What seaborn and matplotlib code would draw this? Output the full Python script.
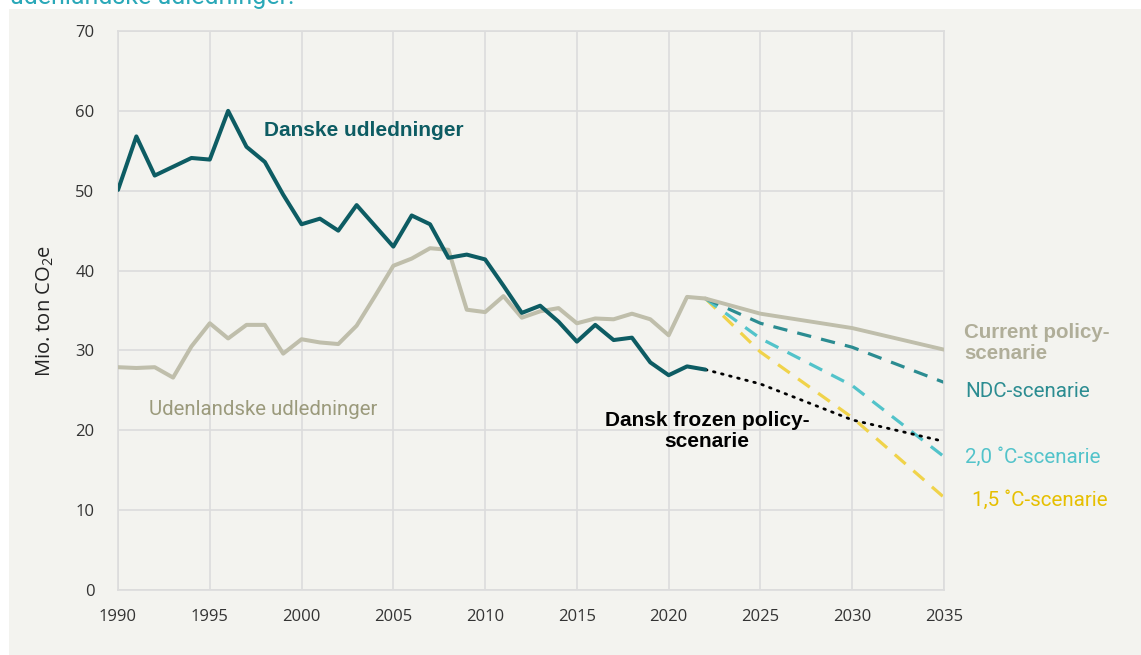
import matplotlib
matplotlib.use("Agg")
import matplotlib.pyplot as plt
import seaborn as sns
import pandas as pd
from matplotlib.patches import Rectangle

# ===================== DATA =====================
years_hist = list(range(1990, 2023))
danske = [50.1, 56.8, 51.9, 53.0, 54.1, 53.9, 60.0, 55.5, 53.6, 49.5,
          45.8, 46.5, 45.0, 48.2, 45.6, 43.0, 46.9, 45.8, 41.6, 42.0,
          41.4, 38.1, 34.7, 35.6, 33.6, 31.1, 33.2, 31.3, 31.6, 28.5,
          26.9, 28.0, 27.6]
udenlandske = [27.9, 27.8, 27.9, 26.6, 30.5, 33.4, 31.5, 33.2, 33.2, 29.6,
               31.4, 31.0, 30.8, 33.1, 36.8, 40.6, 41.5, 42.8, 42.6, 35.1,
               34.8, 36.8, 34.1, 34.9, 35.3, 33.4, 34.0, 33.9, 34.6, 33.9,
               31.9, 36.7, 36.5]

years_scen = [2022, 2025, 2030, 2035]
frozen = [27.6, 25.8, 21.3, 18.6]
current_policy = [36.5, 34.6, 32.8, 30.1]
ndc = [36.5, 33.4, 30.4, 26.0]
scen_20 = [36.5, 31.5, 25.6, 16.7]
scen_15 = [36.5, 29.8, 21.6, 11.6]

x_ticks = list(range(1990, 2036, 5))
y_ticks = list(range(0, 71, 10))

# ===================== STIL =====================
sns.set_theme(style="white")
plt.rcParams['font.family'] = ['Open Sans', 'DejaVu Sans']
plt.rcParams['mathtext.fontset'] = 'custom'
plt.rcParams['mathtext.rm'] = 'Open Sans'
plt.rcParams['mathtext.default'] = 'regular'

bg = "#f3f3ef"
grid_c = "#dcdcdc"
c_dk = "#0d5c63"
c_uden = "#bfbeab"
c_ndc = "#2b8c91"
c_20 = "#52c3ca"
c_15 = "#f0d34a"

fig = plt.figure(figsize=(11.41, 6.55), dpi=100)
fig.patch.set_facecolor("white")
fig.patches.append(Rectangle((9 / 1141, 0), 1 - 9 / 1141, 1 - 9 / 655,
                             transform=fig.transFigure, facecolor=bg,
                             edgecolor="none", zorder=-10))

ax = fig.add_axes([118 / 1141, 65 / 655, (944 - 118) / 1141, (590 - 31) / 655])
ax.set_facecolor(bg)

# ---- linjer ----
df_hist = pd.DataFrame({"aar": years_hist, "dk": danske, "uden": udenlandske})
df_scen = pd.DataFrame({"aar": years_scen, "frozen": frozen, "cp": current_policy,
                        "ndc": ndc, "s20": scen_20, "s15": scen_15})

sns.lineplot(data=df_scen, x="aar", y="s15", ax=ax, color=c_15, linewidth=2.3,
             linestyle=(0, (4.5, 3.2)), zorder=2)
sns.lineplot(data=df_scen, x="aar", y="s20", ax=ax, color=c_20, linewidth=2.3,
             linestyle=(0, (4.5, 3.2)), zorder=2)
sns.lineplot(data=df_scen, x="aar", y="ndc", ax=ax, color=c_ndc, linewidth=2.3,
             linestyle=(0, (4.5, 3.2)), zorder=2)
sns.lineplot(data=df_scen, x="aar", y="cp", ax=ax, color=c_uden, linewidth=2.8, zorder=3)
sns.lineplot(data=df_scen, x="aar", y="frozen", ax=ax, color="black", linewidth=2.0,
             linestyle=(0, (0.6, 2.4)), dash_capstyle="round", zorder=3)
sns.lineplot(data=df_hist, x="aar", y="uden", ax=ax, color=c_uden, linewidth=2.9, zorder=4)
sns.lineplot(data=df_hist, x="aar", y="dk", ax=ax, color=c_dk, linewidth=2.9, zorder=5)

# ---- akser ----
ax.set_xlim(1990, 2035)
ax.set_ylim(0, 70)
ax.set_xticks(x_ticks)
ax.set_yticks(y_ticks)
ax.grid(True, color=grid_c, linewidth=1.2)
ax.set_axisbelow(True)
for s in ax.spines.values():
    s.set_visible(True)
    s.set_color(grid_c)
    s.set_linewidth(1.2)
ax.tick_params(axis="both", length=0, labelsize=12, colors="#333333")
ax.tick_params(axis="x", pad=14)
ax.tick_params(axis="y", pad=17)
ax.set_xlabel("")
ax.set_ylabel("Mio. ton CO$_2$e", fontsize=14.5, color="#222222", labelpad=14)

# ---- tekster ----
ax.text(1997.95, 57.6, "Danske udledninger", color=c_dk, fontsize=15,
        fontweight="bold", family="Liberation Sans", ha="left", va="center")
ax.text(1991.7, 22.6, "Udenlandske udledninger", color="#9b9a7c", fontsize=14.7,
        family="Roboto", ha="left", va="center")
ax.text(2022.1, 19.9, "Dansk frozen policy-\nscenarie", color="black", fontsize=15,
        fontweight="bold", family="Liberation Sans", ha="center", va="center",
        linespacing=1.1)
ax.text(2036.1, 30.9, "Current policy-\nscenarie", color="#b0ae99", fontsize=14.8,
        fontweight="bold", family="Liberation Sans", ha="left", va="center",
        linespacing=1.1)
ax.text(2036.15, 24.8, "NDC-scenarie", color=c_ndc, fontsize=14.8,
        family="Roboto", ha="left", va="center")
ax.text(2036.15, 16.7, "2,0 ˚C-scenarie", color=c_20, fontsize=14.8,
        family="Roboto", ha="left", va="center")
ax.text(2036.5, 11.3, "1,5 ˚C-scenarie", color="#e6bf00", fontsize=14.8,
        family="Roboto", ha="left", va="center")

# afskaaret titel oeverst
fig.text(10 / 1141, 1 - 4 / 655, "udenlandske udledninger.", color="#2aa8b8",
         fontsize=18, family="Roboto", ha="left", va="baseline")

fig.savefig("out.png", dpi=100, facecolor=fig.get_facecolor())
